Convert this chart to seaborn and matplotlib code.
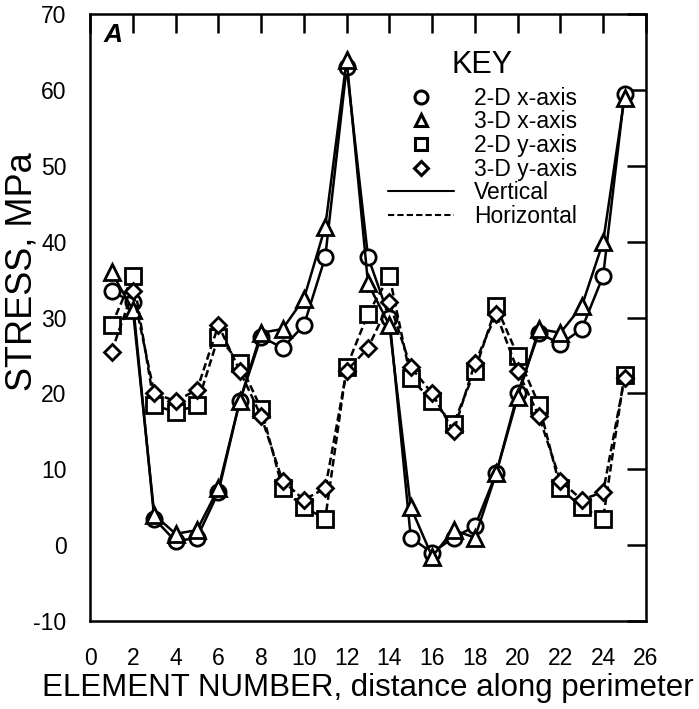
import numpy as np
import pandas as pd
import matplotlib
matplotlib.use("Agg")
import matplotlib.pyplot as plt
import seaborn as sns
from matplotlib.lines import Line2D

element = list(range(1, 26))
x2d = [33.5, 32, 3.5, 0.5, 1, 7, 19, 27.5, 26, 29, 38, 63, 38, 30, 1, -1, 1, 2.5, 9.5, 20, 28, 26.5, 28.5, 35.5, 59.5]
x3d = [36, 31, 4, 1.5, 2, 7.5, 19, 28, 28.5, 32.5, 42, 64, 34.5, 29, 5, -1.5, 2, 1, 9.5, 19.5, 28.5, 28, 31.5, 40, 59]
y2d = [29, 35.5, 18.5, 17.5, 18.5, 27.5, 24, 18, 7.5, 5, 3.5, 23.5, 30.5, 35.5, 22, 19, 16, 23, 31.5, 25, 18.5, 7.5, 5, 3.5, 22.5]
y3d = [25.5, 33.5, 20, 19, 20.5, 29, 23, 17, 8.5, 6, 7.5, 23, 26, 32, 23.5, 20, 15, 24, 30.5, 23, 17, 8.5, 6, 7, 22]

series_names = ["2-D x-axis", "3-D x-axis", "2-D y-axis", "3-D y-axis"]
series_vals = [x2d, x3d, y2d, y3d]
markers = ["o", "^", "s", "D"]
msizes = [11, 11, 11, 8.5]
styles = ["-", "-", (0, (3, 1.5)), (0, (3, 1.5))]

x_ticks = list(range(0, 27, 2))
y_ticks = list(range(-10, 71, 10))

sns.set_style("white")
plt.rcParams['font.family'] = ['Liberation Sans', 'DejaVu Sans']
plt.rcParams['axes.unicode_minus'] = False
plt.rcParams['text.color'] = 'black'
plt.rcParams['axes.labelcolor'] = 'black'
plt.rcParams['xtick.color'] = 'black'
plt.rcParams['ytick.color'] = 'black'

fig = plt.figure(figsize=(6.99, 7.09), dpi=100)
ax = fig.add_axes([0.129, 0.124, 0.795, 0.856])

for name, vals, m, ms, ls in zip(series_names, series_vals, markers, msizes, styles):
    df = pd.DataFrame({"element": element, "stress": vals})
    sns.lineplot(data=df, x="element", y="stress", ax=ax, color="black",
                 linestyle=ls, linewidth=1.8, marker=m, markersize=ms,
                 markerfacecolor="white", markeredgecolor="black",
                 markeredgewidth=2.0)

ax.set_xlim(0, 26)
ax.set_ylim(-10, 70)
ax.set_xticks(x_ticks)
ax.set_yticks(y_ticks)
ax.tick_params(direction="in", length=14, width=1.8, top=True, right=True,
               labelsize=16.5, colors="black")
ax.tick_params(axis="x", pad=19)
ax.tick_params(axis="y", pad=17)
for s in ax.spines.values():
    s.set_linewidth(1.8)
    s.set_color("black")
ax.set_xlabel("ELEMENT NUMBER, distance along perimeter", fontsize=22.5, labelpad=2)
ax.set_ylabel("STRESS, MPa", fontsize=26)
ax.yaxis.set_label_coords(-0.092, 0.575)

ax.text(0.024, 0.985, "A", transform=ax.transAxes, fontsize=19, fontweight="bold",
        fontstyle="italic", va="top", ha="left")

handles = [Line2D([], [], linestyle="none", marker=m, markersize=ms * 0.85,
                  markerfacecolor="white", markeredgecolor="black", markeredgewidth=2.2)
           for m, ms in zip(markers, msizes)]
handles += [Line2D([], [], color="black", linestyle="-", linewidth=1.5),
            Line2D([], [], color="black", linestyle=(0, (3, 1.5)), linewidth=1.5)]
labels = series_names + ["Vertical", "Horizontal"]
leg = ax.legend(handles, labels, title="KEY", loc="upper left",
                bbox_to_anchor=(0.507, 0.968), frameon=False, fontsize=16.5,
                title_fontsize=22, handlelength=2.9, handletextpad=0.85,
                labelspacing=0.03, borderpad=0.2)
leg._legend_box.align = "center"
leg._legend_box.sep = 5

fig.savefig("out.png", dpi=100)
